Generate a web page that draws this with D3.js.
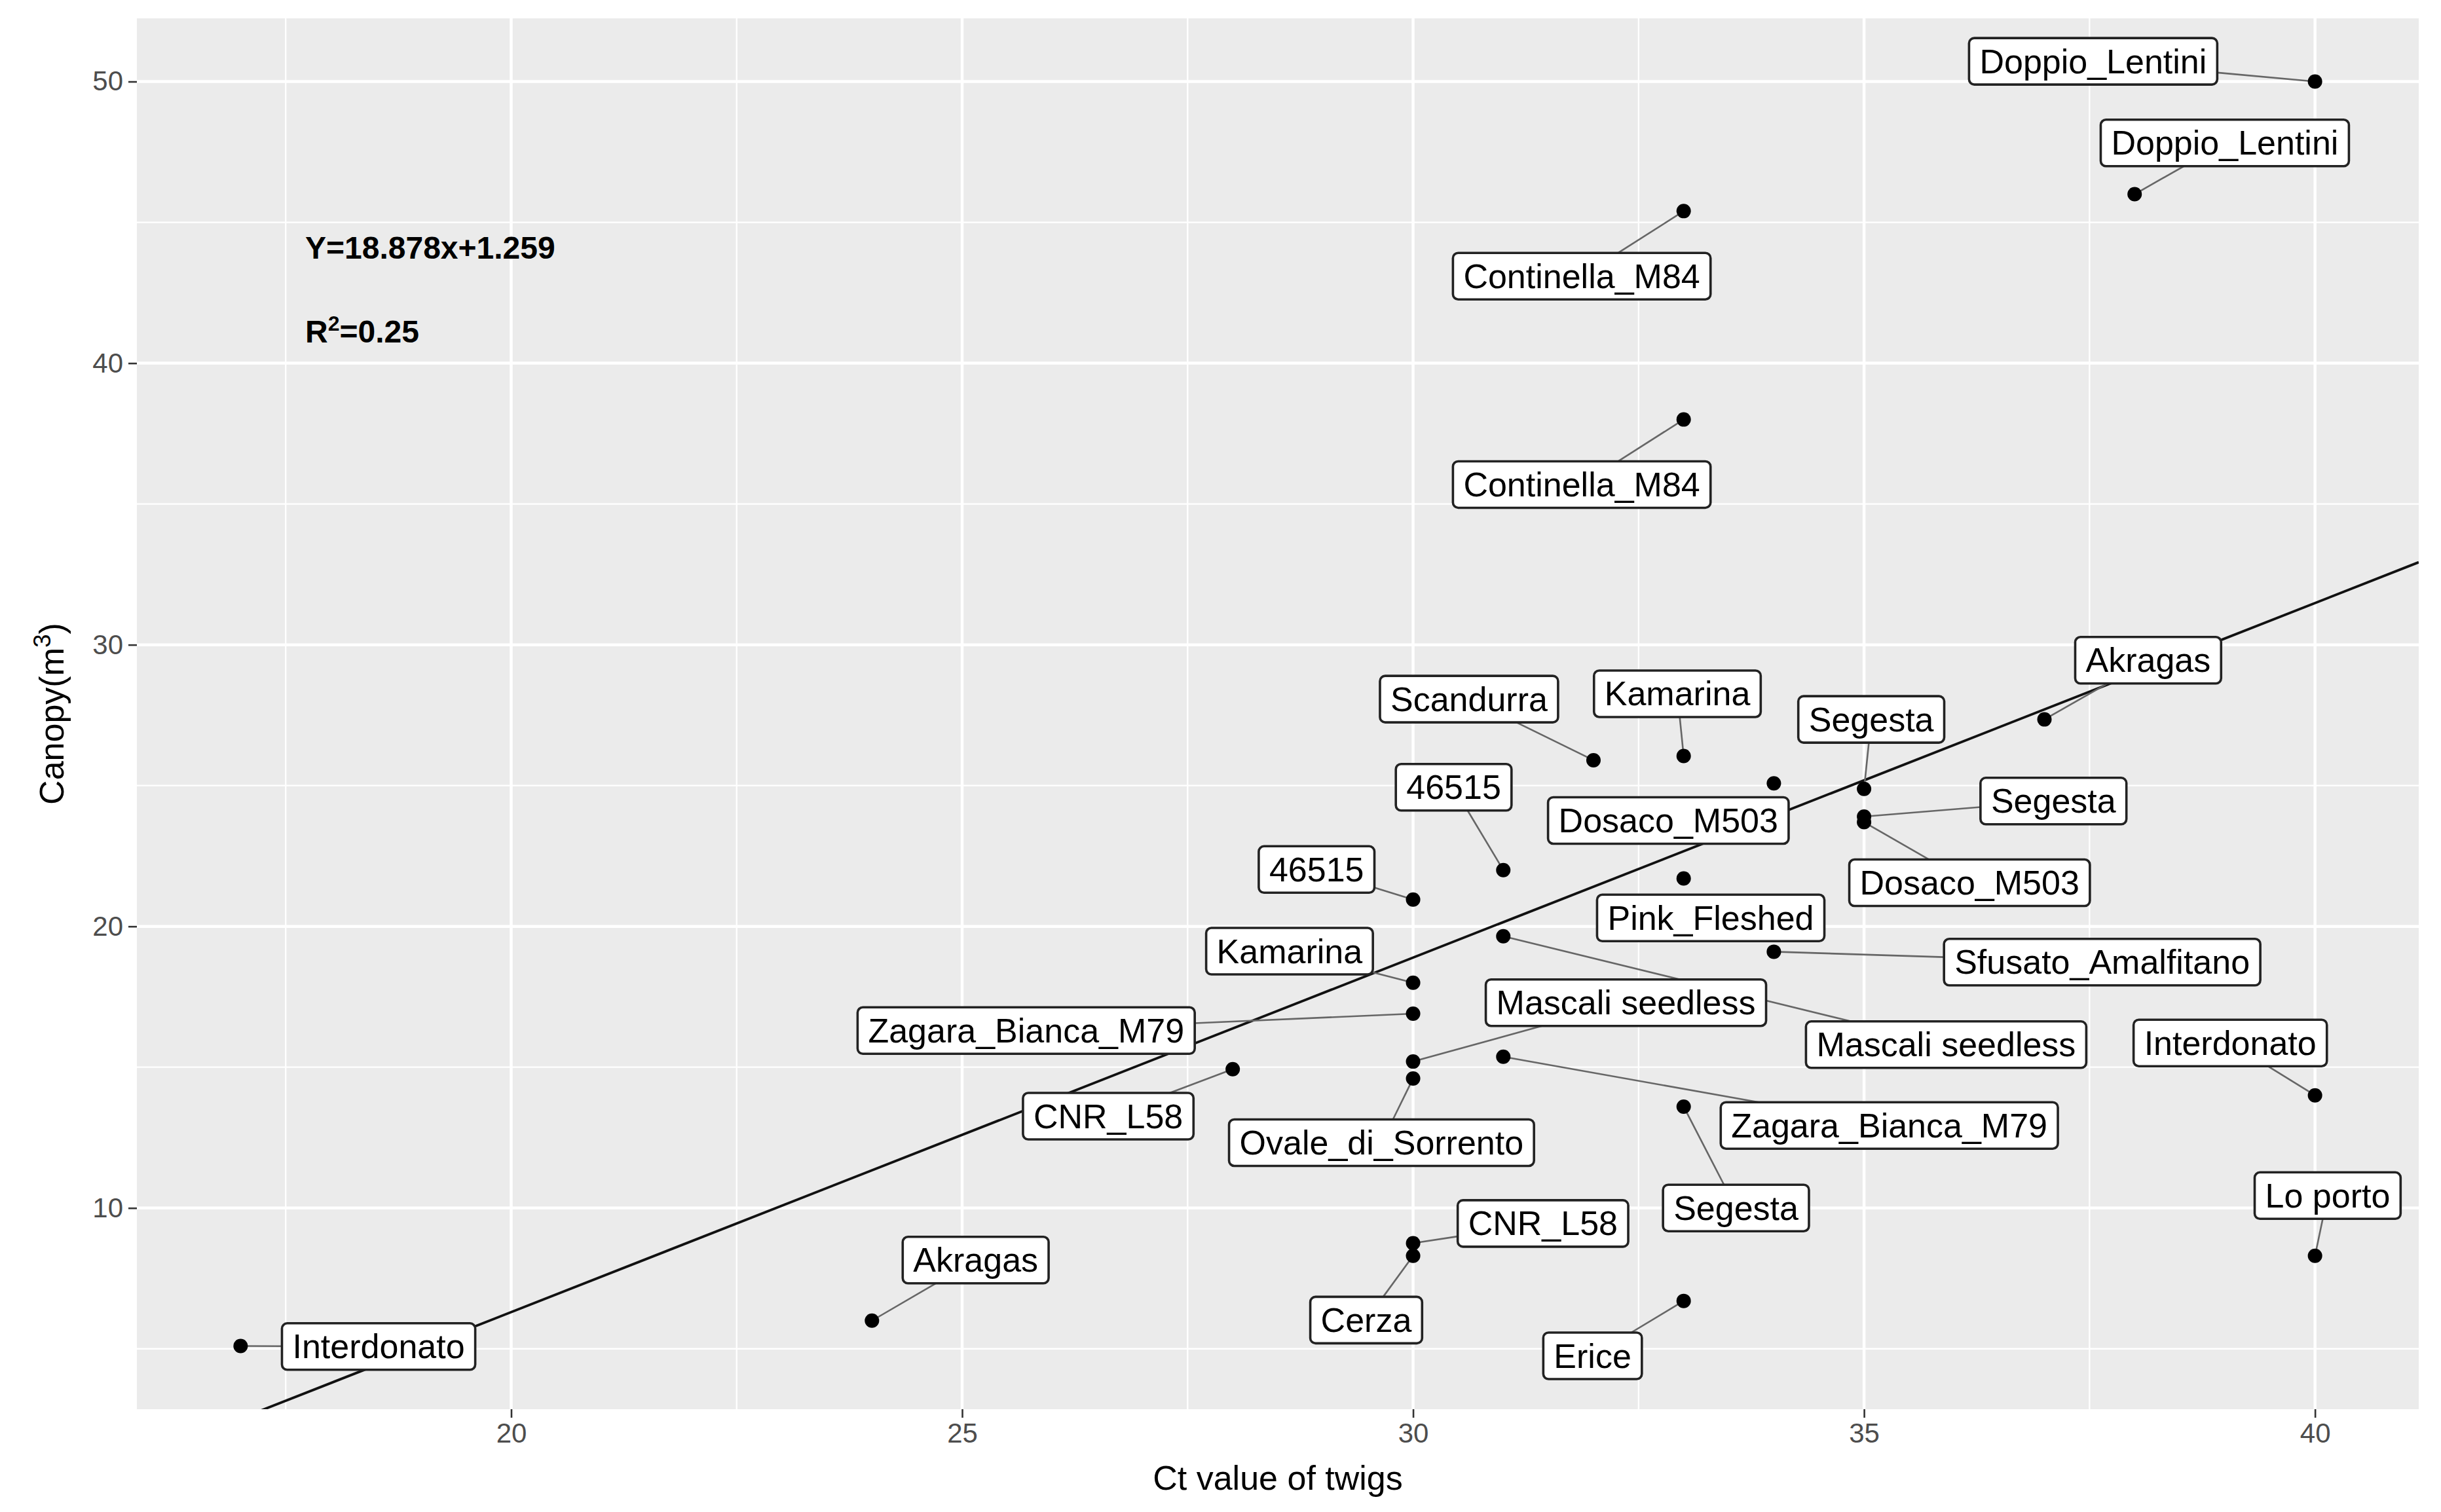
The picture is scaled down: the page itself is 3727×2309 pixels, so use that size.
<!DOCTYPE html>
<html>
<head>
<meta charset="utf-8">
<script src="https://cdn.jsdelivr.net/npm/d3@7"></script>
<style>
  body { margin: 0; background: #fff; }
  svg { display: block; font-family: "Liberation Sans", Arial, sans-serif; }
</style>
</head>
<body>
<div id="chart"></div>
<script>
////////////////////////////////////////////////////////////////////
////////////////////////////  Data  ////////////////////////////////

const cultivars = [
  "Doppio_Lentini", "Doppio_Lentini", "Continella_M84", "Continella_M84", "Akragas",
  "Scandurra", "Kamarina", "Segesta", "Dosaco_M503", "Segesta",
  "Dosaco_M503", "46515", "46515", "Pink_Fleshed", "Sfusato_Amalfitano",
  "Kamarina", "Mascali seedless", "Mascali seedless", "Zagara_Bianca_M79", "Zagara_Bianca_M79",
  "CNR_L58", "Ovale_di_Sorrento", "Segesta", "Interdonato", "Lo porto",
  "CNR_L58", "Cerza", "Erice", "Akragas", "Interdonato"
];
const ctTwigs = [
  40, 38, 33, 33, 37,
  32, 33, 35, 34, 35,
  35, 31, 30, 33, 34,
  30, 30, 31, 30, 31,
  28, 30, 33, 40, 40,
  30, 30, 33, 24, 17
];
const canopy = [
  50, 46, 45.4, 38, 27.35,
  25.9, 26.05, 24.88, 25.08, 23.9,
  23.7, 22, 20.95, 21.7, 19.1,
  18, 15.2, 19.65, 16.9, 15.37,
  14.93, 14.6, 13.6, 14, 8.3,
  8.75, 8.3, 6.7, 6, 5.1
];

// where the repelled labels ended up (data units)
const labelCt = [
  37.54, 39.0, 31.87, 31.87, 38.15,
  30.62, 32.93, 35.08, 32.83, 37.10,
  36.17, 30.45, 28.93, 33.30, 37.64,
  28.63, 32.36, 35.91, 25.71, 35.28,
  26.62, 29.65, 33.58, 39.06, 40.14,
  31.44, 29.48, 31.99, 25.15, 18.53
];
const labelCanopy = [
  50.72, 47.82, 43.09, 35.69, 29.45,
  28.07, 28.26, 27.35, 23.76, 24.45,
  21.55, 24.94, 22.02, 20.3, 18.73,
  19.12, 17.29, 15.80, 16.30, 12.93,
  13.26, 12.32, 10.0, 15.86, 10.44,
  9.45, 6.02, 4.75, 8.15, 5.08
];

const xTicks = [20, 25, 30, 35, 40];
const yTicks = [10, 20, 30, 40, 50];
const xMinor = [17.5, 22.5, 27.5, 32.5, 37.5];
const yMinor = [5, 15, 25, 35, 45];

// fitted line as drawn: canopy = 1.259 * ct - 18.878
const fitSlope = 1.259;
const fitIntercept = -18.878;

////////////////////////////////////////////////////////////////////
////////////////////////////  Init  ////////////////////////////////

const width = 3727;
const height = 2309;
const margin = { top: 28, right: 34, bottom: 157, left: 209 };

const data = cultivars.map((name, i) => ({
  name,
  ct: ctTwigs[i],
  canopy: canopy[i],
  lx: labelCt[i],
  ly: labelCanopy[i],
}));

const svg = d3
  .select("#chart")
  .append("svg")
  .attr("width", width)
  .attr("height", height);

svg.append("rect").attr("width", width).attr("height", height).attr("fill", "#fff");

// ggplot style 5% expansion
const expand = (ext) => {
  const pad = (ext[1] - ext[0]) * 0.05;
  return [ext[0] - pad, ext[1] + pad];
};

const xScale = d3
  .scaleLinear()
  .domain(expand(d3.extent(data, (d) => d.ct)))
  .range([margin.left, width - margin.right]);

const yScale = d3
  .scaleLinear()
  .domain(expand(d3.extent(data, (d) => d.canopy)))
  .range([height - margin.bottom, margin.top]);

const x0 = margin.left;
const x1 = width - margin.right;
const y0 = margin.top;
const y1 = height - margin.bottom;

// panel
svg
  .append("rect")
  .attr("x", x0)
  .attr("y", y0)
  .attr("width", x1 - x0)
  .attr("height", y1 - y0)
  .attr("fill", "#EBEBEB");

svg
  .append("clipPath")
  .attr("id", "panel-clip")
  .append("rect")
  .attr("x", x0)
  .attr("y", y0)
  .attr("width", x1 - x0)
  .attr("height", y1 - y0);

// grid
const grid = svg.append("g").attr("stroke", "#fff");

grid
  .selectAll(".vminor")
  .data(xMinor)
  .join("line")
  .attr("x1", (d) => xScale(d))
  .attr("x2", (d) => xScale(d))
  .attr("y1", y0)
  .attr("y2", y1)
  .attr("stroke-width", 2.3);

grid
  .selectAll(".hminor")
  .data(yMinor)
  .join("line")
  .attr("y1", (d) => yScale(d))
  .attr("y2", (d) => yScale(d))
  .attr("x1", x0)
  .attr("x2", x1)
  .attr("stroke-width", 2.3);

grid
  .selectAll(".vmajor")
  .data(xTicks)
  .join("line")
  .attr("x1", (d) => xScale(d))
  .attr("x2", (d) => xScale(d))
  .attr("y1", y0)
  .attr("y2", y1)
  .attr("stroke-width", 4.5);

grid
  .selectAll(".hmajor")
  .data(yTicks)
  .join("line")
  .attr("y1", (d) => yScale(d))
  .attr("y2", (d) => yScale(d))
  .attr("x1", x0)
  .attr("x2", x1)
  .attr("stroke-width", 4.5);

// axes
const xAxis = d3.axisBottom(xScale).tickValues(xTicks).tickSize(13).tickPadding(8).tickSizeOuter(0);
const yAxis = d3.axisLeft(yScale).tickValues(yTicks).tickSize(13).tickPadding(8).tickSizeOuter(0);

const gx = svg
  .append("g")
  .attr("class", "x-axis")
  .attr("transform", `translate(0, ${y1})`)
  .call(xAxis);

const gy = svg
  .append("g")
  .attr("class", "y-axis")
  .attr("transform", `translate(${x0}, 0)`)
  .call(yAxis);

[gx, gy].forEach((g) => {
  g.select(".domain").remove();
  g.selectAll(".tick line").attr("stroke", "#333").attr("stroke-width", 2.6);
  g.selectAll(".tick text")
    .attr("fill", "#4D4D4D")
    .style("font-size", "42px")
    .style("font-family", '"Liberation Sans", Arial, sans-serif');
});

// axis titles
svg
  .append("text")
  .attr("x", (x0 + x1) / 2)
  .attr("y", 2275)
  .attr("text-anchor", "middle")
  .style("font-size", "52px")
  .attr("fill", "#000")
  .text("Ct value of twigs");

const yTitle = svg
  .append("text")
  .attr("transform", `translate(97, ${(y0 + y1) / 2}) rotate(-90)`)
  .attr("text-anchor", "middle")
  .style("font-size", "52px")
  .attr("fill", "#000");
yTitle.append("tspan").text("Canopy(m");
yTitle.append("tspan").attr("dy", -20).style("font-size", "37px").text("3");
yTitle.append("tspan").attr("dy", 20).text(")");

// fitted line
const fitLine = d3
  .line()
  .x((d) => xScale(d))
  .y((d) => yScale(fitSlope * d + fitIntercept));

svg
  .append("path")
  .datum(xScale.domain())
  .attr("d", fitLine)
  .attr("clip-path", "url(#panel-clip)")
  .attr("fill", "none")
  .attr("stroke", "#111")
  .attr("stroke-width", 3.8);

// equation
const eq = svg
  .append("g")
  .style("font-size", "48px")
  .style("font-weight", "bold")
  .attr("fill", "#000");

eq.append("text").attr("x", 466).attr("y", 395).text("Y=18.878x+1.259");
const r2 = eq.append("text").attr("x", 466).attr("y", 523);
r2.append("tspan").text("R");
r2.append("tspan").attr("dy", -18).style("font-size", "32px").text("2");
r2.append("tspan").attr("dy", 18).text("=0.25");

////////////////////////////////////////////////////////////////////
////////////////////////////  Labels  //////////////////////////////

const boxH = 71;
const padX = 16;
const pointR = 11;

const labelLayer = svg.append("g");
const segLayer = labelLayer.append("g");
const pointLayer = labelLayer.append("g");
const boxLayer = labelLayer.append("g");

data.forEach((d) => {
  const cx = xScale(d.lx);
  const cy = yScale(d.ly);

  const g = boxLayer.append("g");
  const rect = g.append("rect");
  const txt = g
    .append("text")
    .attr("x", cx)
    .attr("y", cy + 18)
    .attr("text-anchor", "middle")
    .style("font-size", "52px")
    .attr("fill", "#000")
    .text(d.name);

  const tw = txt.node().getComputedTextLength();
  const hw = tw / 2 + padX;
  const hh = boxH / 2;

  rect
    .attr("x", cx - hw)
    .attr("y", cy - hh)
    .attr("width", hw * 2)
    .attr("height", boxH)
    .attr("rx", 8)
    .attr("fill", "#fff")
    .attr("stroke", "#222")
    .attr("stroke-width", 3.6);

  // segment from point towards label centre, stopping at the box
  const px = xScale(d.ct);
  const py = yScale(d.canopy);
  const dx = px - cx;
  const dy = py - cy;
  const gapX = Math.max(0, Math.abs(dx) - hw);
  const gapY = Math.max(0, Math.abs(dy) - hh);
  const gap = Math.hypot(gapX, gapY) - pointR;

  if (gap > 15) {
    const t = Math.min(
      Math.abs(dx) > 0 ? hw / Math.abs(dx) : Infinity,
      Math.abs(dy) > 0 ? hh / Math.abs(dy) : Infinity
    );
    segLayer
      .append("line")
      .attr("x1", px)
      .attr("y1", py)
      .attr("x2", cx + dx * t)
      .attr("y2", cy + dy * t)
      .attr("stroke", "#666")
      .attr("stroke-width", 2.6);
  }
});

pointLayer
  .selectAll("circle")
  .data(data)
  .join("circle")
  .attr("cx", (d) => xScale(d.ct))
  .attr("cy", (d) => yScale(d.canopy))
  .attr("r", pointR)
  .attr("fill", "#000");
</script>
</body>
</html>
